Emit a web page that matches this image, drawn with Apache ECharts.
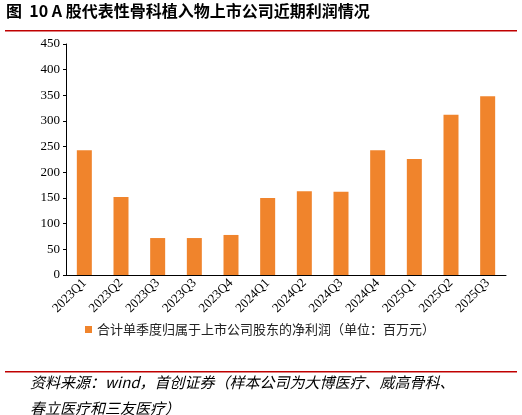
<!DOCTYPE html>
<html><head><meta charset="utf-8">
<script src="https://cdn.jsdelivr.net/npm/echarts@6/dist/echarts.min.js"></script>
<style>html,body{margin:0;padding:0;background:#fff}#c{width:522px;height:415px}</style>
</head><body><div id="c"></div>
<script>
var categories = ['2023Q1','2023Q2','2023Q3','2023Q3','2023Q4','2024Q1','2024Q2','2024Q3','2024Q4','2025Q1','2025Q2','2025Q3'];
var profits = [243, 152, 72, 72, 78, 150, 163, 162, 243, 226, 312, 348];
var seriesName = '合计单季度归属于上市公司股东的净利润（单位：百万元）';
var font = '"Noto Sans CJK SC", sans-serif';

var chart = echarts.init(document.getElementById('c'));
chart.setOption({
  animation: false,
  grid: { left: 66, right: 16, top: 44, bottom: 140 },
  legend: {
    data: [seriesName], left: 80, top: 318, itemWidth: 7, itemHeight: 7, itemGap: 4,
    icon: 'rect', textStyle: { fontFamily: font, fontSize: 13, color: '#222' }
  },
  xAxis: {
    type: 'category', data: categories,
    axisLine: { lineStyle: { color: '#000' } }, axisTick: { show: false },
    axisLabel: { rotate: 45, interval: 0, color: '#000', fontSize: 13, fontFamily: '"Liberation Serif", serif', margin: 6 }
  },
  yAxis: {
    type: 'value', min: 0, max: 450, interval: 50,
    axisLine: { show: true, lineStyle: { color: '#000' } }, axisTick: { show: true, length: 3 },
    splitLine: { show: false },
    axisLabel: { color: '#000', fontSize: 13, fontFamily: '"Liberation Serif", serif', margin: 6 }
  },
  series: [{
    name: seriesName, type: 'bar', data: profits, barWidth: 15,
    itemStyle: { color: '#f0842c' }
  }],
  graphic: [
    { type: 'text', left: 6, top: 3, style: { text: '图  10 A 股代表性骨科植入物上市公司近期利润情况', fontFamily: font, fontSize: 16, fontWeight: 'bold', fill: '#000' } },
    { type: 'rect', shape: { x: 5, y: 30, width: 512, height: 1.5 }, style: { fill: '#c00000' } },
    { type: 'rect', shape: { x: 5, y: 371, width: 512, height: 1.5 }, style: { fill: '#c00000' } },
    { type: 'text', left: 30, top: 375, style: { text: '资料来源：wind，首创证券（样本公司为大博医疗、威高骨科、', fontFamily: font, fontSize: 15, fontStyle: 'italic', fill: '#000' } },
    { type: 'text', left: 30, top: 401, style: { text: '春立医疗和三友医疗）', fontFamily: font, fontSize: 15, fontStyle: 'italic', fill: '#000' } }
  ]
});
</script></body></html>
